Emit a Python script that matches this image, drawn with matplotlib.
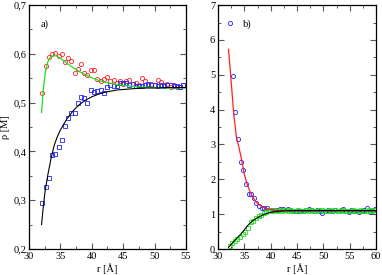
import matplotlib
matplotlib.use('Agg')
import matplotlib.pyplot as plt
from matplotlib.ticker import MultipleLocator, FuncFormatter

plt.rcParams['font.family'] = ['Liberation Serif', 'DejaVu Serif']

# ---- panel a) ----
r_a = [32.1, 32.66, 33.2, 33.7, 34.2, 34.8, 35.3, 35.7, 36.2, 36.7, 37.3, 37.75,
       38.3, 38.8, 39.3, 39.9, 40.4, 40.9, 41.4, 41.9, 42.4, 42.9, 43.5, 44.0,
       44.5, 45.0, 45.5, 46.0, 46.5, 47.0, 47.5, 48.0, 48.5, 49.0, 49.5, 50.0,
       50.5, 51.0, 51.5, 52.0, 52.6, 53.1, 53.6, 54.1, 54.6]
red_a = [0.519, 0.576, 0.593, 0.599, 0.602, 0.596, 0.599, 0.584, 0.591, 0.585,
         0.561, 0.570, 0.580, 0.561, 0.557, 0.567, 0.567, 0.549, 0.544, 0.548,
         0.552, 0.544, 0.546, 0.541, 0.544, 0.539, 0.545, 0.547, 0.539, 0.541,
         0.537, 0.550, 0.544, 0.537, 0.539, 0.537, 0.546, 0.543, 0.537, 0.539,
         0.533, 0.537, 0.533, 0.533, 0.537]
blue_a = [0.295, 0.327, 0.346, 0.393, 0.395, 0.410, 0.423, 0.452, 0.468, 0.479,
          0.479, 0.500, 0.511, 0.509, 0.500, 0.526, 0.521, 0.524, 0.526, 0.519,
          0.533, 0.537, 0.535, 0.535, 0.540, 0.540, 0.540, 0.537, 0.538, 0.535,
          0.535, 0.535, 0.537, 0.538, 0.536, 0.537, 0.535, 0.537, 0.535, 0.537,
          0.536, 0.535, 0.535, 0.533, 0.537]

rg_a = [32.0, 32.3, 32.6, 33.0, 33.5, 34.0, 34.5, 35.0, 35.5, 36.0, 37.0, 38.0,
        39.0, 40.0, 41.0, 42.0, 44.0, 46.0, 48.0, 50.0, 52.0, 55.0]
green_line_a = [0.480, 0.530, 0.562, 0.584, 0.595, 0.597, 0.595, 0.591, 0.586,
                0.581, 0.572, 0.564, 0.557, 0.551, 0.546, 0.542, 0.537, 0.534,
                0.532, 0.531, 0.530, 0.530]
rk_a = [32.0, 32.3, 32.6, 33.0, 33.5, 34.0, 34.5, 35.0, 36.0, 37.0, 38.0, 39.0,
        40.0, 41.0, 42.0, 44.0, 46.0, 48.0, 50.0, 52.0, 55.0]
black_line_a = [0.250, 0.290, 0.322, 0.352, 0.385, 0.412, 0.430, 0.444, 0.466,
                0.483, 0.496, 0.505, 0.512, 0.517, 0.521, 0.526, 0.528, 0.530,
                0.530, 0.531, 0.531]

# ---- panel b) ----
r_b = [32.3, 32.8, 33.3, 33.8, 34.3, 34.8, 35.3, 35.8, 36.3, 36.8, 37.3, 37.8,
       38.3, 38.8, 39.3, 39.8, 40.3, 40.8, 41.3, 41.8, 42.3, 42.8, 43.3, 43.8,
       44.3, 44.8, 45.3, 45.8, 46.3, 46.8, 47.3, 47.8, 48.3, 48.8, 49.3, 49.8,
       50.3, 50.8, 51.3, 51.8, 52.3, 52.8, 53.3, 53.8, 54.3, 54.8, 55.3, 55.8,
       56.3, 56.8, 57.3, 57.8, 58.3, 58.8, 59.3, 59.8]
blue_b = [6.49, 4.96, 3.92, 3.17, 2.50, 2.27, 1.86, 1.57, 1.57, 1.45, 1.33, 1.24,
          1.19, 1.19, 1.17, 1.13, 1.13, 1.11, 1.13, 1.16, 1.15, 1.13, 1.15, 1.12,
          1.10, 1.10, 1.08, 1.10, 1.09, 1.12, 1.15, 1.11, 1.10, 1.12, 1.08, 1.04,
          1.10, 1.12, 1.09, 1.10, 1.11, 1.08, 1.12, 1.14, 1.09, 1.06, 1.11, 1.10,
          1.08, 1.06, 1.09, 1.12, 1.17, 1.05, 1.12, 1.14]
rsq_b = [32.2, 32.7, 33.2, 33.7, 34.2, 34.7, 35.2, 35.7, 36.2, 36.7, 37.2, 37.7,
         38.2, 38.7, 39.2, 39.7, 40.2, 40.7, 41.2, 41.7, 42.2, 42.7, 43.2, 43.7,
         44.2, 44.7, 45.2, 45.7, 46.2, 46.7, 47.2, 47.7, 48.2, 48.7, 49.2, 49.7,
         50.2, 50.7, 51.2, 51.7, 52.2, 52.7, 53.2, 53.7, 54.2, 54.7, 55.2, 55.7,
         56.2, 56.7, 57.2, 57.7, 58.2, 58.7, 59.2, 59.7]
green_b = [0.09, 0.16, 0.23, 0.30, 0.35, 0.42, 0.50, 0.61, 0.78, 0.81, 0.90, 0.95,
           0.99, 1.04, 1.07, 1.12, 1.10, 1.12, 1.10, 1.11, 1.09, 1.12, 1.10, 1.11,
           1.09, 1.10, 1.12, 1.10, 1.09, 1.11, 1.10, 1.12, 1.10, 1.09, 1.13, 1.11,
           1.10, 1.09, 1.11, 1.10, 1.12, 1.10, 1.09, 1.11, 1.10, 1.08, 1.10, 1.11,
           1.09, 1.10, 1.12, 1.10, 1.09, 1.11, 1.10, 1.12]

rl_b = [32.0, 32.5, 33.0, 33.5, 34.0, 34.5, 35.0, 35.5, 36.0, 36.5, 37.0, 37.5,
        38.0, 39.0, 40.0, 41.0, 42.0, 44.0, 46.0, 50.0, 55.0, 60.0]
red_line_b = [5.73, 4.80, 3.85, 3.20, 2.90, 2.55, 2.15, 1.87, 1.68, 1.52, 1.40,
              1.31, 1.25, 1.17, 1.13, 1.11, 1.10, 1.10, 1.10, 1.10, 1.10, 1.10]
black_line_b = [0.05, 0.13, 0.22, 0.30, 0.37, 0.46, 0.55, 0.65, 0.73, 0.80, 0.85,
                0.90, 0.94, 1.01, 1.05, 1.08, 1.09, 1.10, 1.10, 1.10, 1.10, 1.10]

RED, GREEN, BLUE = '#ff2020', '#20e020', '#2020ff'
ms = 3.0
mew = 0.6

fig = plt.figure(figsize=(3.82, 2.75), dpi=100)
ax1 = fig.add_axes([0.0759, 0.0945, 0.411, 0.887])
ax2 = fig.add_axes([0.5707, 0.0945, 0.4136, 0.887])

def style(ax):
	ax.tick_params(which='both', direction='in', top=True, right=True,
		labelsize=7.5, color='0.35')
	ax.tick_params(axis='y', pad=2)
	ax.tick_params(axis='x', pad=2.5)
	ax.tick_params(which='major', length=4, width=0.8)
	ax.tick_params(which='minor', length=2.2, width=0.7)
	for s in ax.spines.values():
		s.set_linewidth(0.9)

# panel a
ax1.plot(r_a, red_a, 'o', ms=ms, mfc='none', mec=RED, mew=mew)
ax1.plot(r_a, blue_a, 's', ms=ms - 0.3, mfc='none', mec=BLUE, mew=mew)
ax1.plot(rg_a, green_line_a, '-', color=GREEN, lw=0.9)
ax1.plot(rk_a, black_line_a, '-', color='k', lw=0.8)
ax1.set_xlim(30, 55)
ax1.set_ylim(0.2, 0.7)
ax1.xaxis.set_major_locator(MultipleLocator(5))
ax1.xaxis.set_minor_locator(MultipleLocator(2.5))
ax1.yaxis.set_major_locator(MultipleLocator(0.1))
ax1.yaxis.set_minor_locator(MultipleLocator(0.05))
ax1.yaxis.set_major_formatter(FuncFormatter(lambda v, p: ('%.1f' % v).replace('.', ',')))
ax1.set_xlabel('r [Å]', fontsize=7.5, labelpad=1)
ax1.set_ylabel('ρ [M]', fontsize=7.5, labelpad=2)
ax1.text(0.075, 0.923, 'a)', transform=ax1.transAxes, fontsize=7.5, va='center')
style(ax1)

# panel b
ax2.plot(r_b, blue_b, 'o', ms=ms, mfc='none', mec=BLUE, mew=mew)
ax2.plot(rsq_b, green_b, 's', ms=ms - 0.3, mfc='none', mec=GREEN, mew=mew)
ax2.plot(rl_b, red_line_b, '-', color=RED, lw=0.9)
ax2.plot(rl_b, black_line_b, '-', color='k', lw=0.8)
ax2.set_xlim(30, 60)
ax2.set_ylim(0, 7)
ax2.xaxis.set_major_locator(MultipleLocator(5))
ax2.xaxis.set_minor_locator(MultipleLocator(2.5))
ax2.yaxis.set_major_locator(MultipleLocator(1))
ax2.yaxis.set_minor_locator(MultipleLocator(0.5))
ax2.set_xlabel('r [Å]', fontsize=7.5, labelpad=1)
ax2.text(0.16, 0.923, 'b)', transform=ax2.transAxes, fontsize=7.5, va='center')
style(ax2)

fig.savefig('out.png', dpi=100)
